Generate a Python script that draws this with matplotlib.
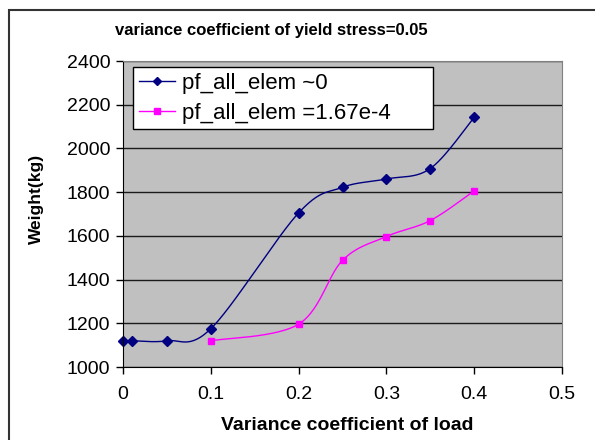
"""
Weight vs variance coefficient of load, Excel-style chart with smoothed lines.
"""
import numpy as np
import matplotlib
matplotlib.use('Agg')
import matplotlib.pyplot as plt
from matplotlib.patches import Rectangle

plt.rcParams['font.family'] = ['Liberation Sans', 'DejaVu Sans']

# data
load_cv_a = [0.0, 0.01, 0.05, 0.1, 0.2, 0.25, 0.3, 0.35, 0.4]
weight_a = [1120, 1120, 1120, 1175, 1705, 1822, 1860, 1908, 2142]
load_cv_b = [0.1, 0.2, 0.25, 0.3, 0.35, 0.4]
weight_b = [1120, 1196, 1488, 1597, 1670, 1806]
label_a = 'pf_all_elem ~0'
label_b = 'pf_all_elem =1.67e-4'
y_ticks = [1000, 1200, 1400, 1600, 1800, 2000, 2200, 2400]
x_ticks = [0, 0.1, 0.2, 0.3, 0.4, 0.5]
x_ticklabels = ['0', '0.1', '0.2', '0.3', '0.4', '0.5']


def smooth(ax, xs, ys, n=30):
    """Catmull-Rom style smoothing done in display space (like Excel)."""
    pts = ax.transData.transform(np.column_stack((xs, ys)))
    out = [pts[0]]
    for i in range(len(pts) - 1):
        p0 = pts[max(i - 1, 0)]
        p1 = pts[i]
        p2 = pts[i + 1]
        p3 = pts[min(i + 2, len(pts) - 1)]
        c1 = p1 + (p2 - p0) / 6.0
        c2 = p2 - (p3 - p1) / 6.0
        t = np.linspace(0, 1, n)[1:, None]
        seg = ((1 - t) ** 3) * p1 + 3 * ((1 - t) ** 2) * t * c1 \
            + 3 * (1 - t) * t ** 2 * c2 + t ** 3 * p2
        out.extend(seg)
    out = ax.transData.inverted().transform(np.array(out))
    return out[:, 0], out[:, 1]


fig = plt.figure(figsize=(5.95, 4.4), dpi=100)
ax = fig.add_axes([123 / 595, 1 - 367 / 440, 439 / 595, 306 / 440])
ax.set_facecolor('#c0c0c0')
ax.set_xlim(0, 0.5)
ax.set_ylim(1000, 2400)
ax.set_xticks(x_ticks)
ax.set_xticklabels(x_ticklabels)
ax.set_yticks(y_ticks)
ax.yaxis.grid(True, color='#1a1a1a', linewidth=1)
ax.set_axisbelow(True)

for sp in ['left', 'bottom']:
    ax.spines[sp].set_color('black')
for sp in ['top', 'right']:
    ax.spines[sp].set_color('#808080')
ax.tick_params(direction='out', length=5, width=1, labelsize=14,
               top=False, right=False)
ax.tick_params(axis='x', pad=9)
ax.tick_params(axis='y', pad=4)

navy = '#000080'
magenta = '#ff00ff'
sx, sy = smooth(ax, load_cv_a, weight_a)
ax.plot(sx, sy, color=navy, linewidth=1, clip_on=False)
ax.plot(load_cv_a, weight_a, linestyle='none', marker='D', markersize=5.5,
        color=navy, clip_on=False)
sx, sy = smooth(ax, load_cv_b, weight_b)
ax.plot(sx, sy, color=magenta, linewidth=1, clip_on=False)
ax.plot(load_cv_b, weight_b, linestyle='none', marker='s', markersize=5,
        color=magenta, clip_on=False)

h1, = ax.plot([], [], color=navy, linewidth=1, marker='D', markersize=4)
h2, = ax.plot([], [], color=magenta, linewidth=1, marker='s', markersize=4)
leg = ax.legend([h1, h2], [label_a, label_b], loc='upper left',
                bbox_to_anchor=(0.023, 0.752, 0.683, 0.228), mode='expand',
                borderaxespad=0, fontsize=16, fancybox=False, framealpha=1,
                edgecolor='black', handlelength=1.65, handletextpad=0.3,
                labelspacing=0.4, borderpad=0.25)
leg.get_frame().set_linewidth(1)

fig.text(271 / 595, 1 - 30 / 440, 'variance coefficient of yield stress=0.05',
         fontsize=12, fontweight='bold', ha='center', va='center')
ax.set_xlabel('Variance coefficient of load', fontsize=14, fontweight='bold')
ax.xaxis.set_label_coords((347 - 123) / 439, -(425 - 367) / 306)
ax.xaxis.label.set_va('center')
ax.set_ylabel('Weight(kg)', fontsize=12.5, fontweight='bold')
ax.yaxis.set_label_coords((36 - 123) / 439, (367 - 199) / 306)
ax.yaxis.label.set_va('center')

fig.patches.append(Rectangle((9 / 595, -0.1), 1.2, 1 - 10 / 440 + 0.1,
                             transform=fig.transFigure, fill=False,
                             edgecolor='#333333', linewidth=1.5))

fig.savefig('out.png', dpi=100)
